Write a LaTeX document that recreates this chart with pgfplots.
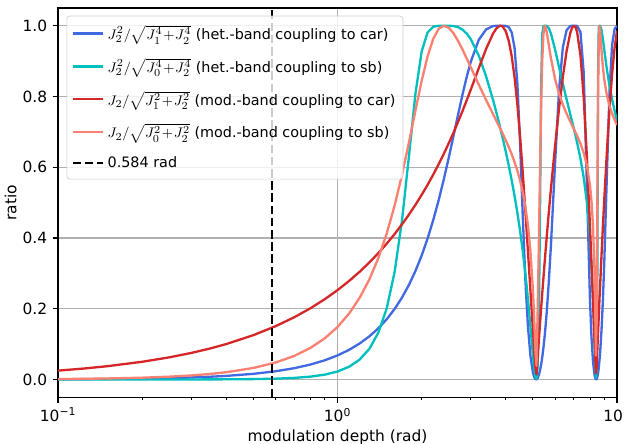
\documentclass[border=0pt]{standalone}
\usepackage{fontspec}
\setmainfont{DejaVu Sans}
\usepackage{pgfplots}
\usepackage{pgfplotstable}
\pgfplotsset{compat=1.18}

\definecolor{cblue}{HTML}{4169E1}
\definecolor{ccyan}{HTML}{00BFBF}
\definecolor{cred}{HTML}{D62728}
\definecolor{csalmon}{HTML}{FA8072}
\definecolor{cgrid}{HTML}{B0B0B0}

% tighter spacing round + in the legend formulas
\newcommand{\lm}[1]{{\medmuskip=1mu $#1$}}

% x: modulation depth; A: het->car, B: het->sb, C: mod->car, D: mod->sb
\pgfplotstableread{
x A B C D
0.1 0.000627 0.0000016 0.02503 0.001253
0.125 0.000978 0.0000038 0.03127 0.001958
0.15 0.001408 0.000008 0.03750 0.002823
0.2 0.002507 0.000025 0.05001 0.005033
0.25 0.003927 0.000062 0.06254 0.007894
0.3 0.005668 0.000130 0.07507 0.01142
0.35 0.007734 0.000244 0.08760 0.015629
0.4 0.010134 0.000422 0.10017 0.020544
0.5 0.015954 0.001063 0.12532 0.032593
0.6 0.02319 0.002292 0.15057 0.047824
0.7 0.03191 0.00445 0.17590 0.06656
0.8 0.04222 0.008026 0.20135 0.08923
0.9 0.05421 0.01372 0.22693 0.11634
1.0 0.06802 0.02254 0.25264 0.14849
1.1 0.08380 0.03599 0.27852 0.18644
1.2 0.10174 0.05629 0.30460 0.23101
1.3 0.12200 0.08678 0.33085 0.28308
1.4 0.14484 0.13262 0.35734 0.34353
1.5 0.17050 0.20141 0.38407 0.41298
1.6 0.19925 0.30342 0.41106 0.49145
1.7 0.23135 0.44807 0.43831 0.57781
1.8 0.26709 0.62978 0.46584 0.66914
1.9 0.30675 0.80783 0.49370 0.76037
2.0 0.35053 0.92762 0.52187 0.84435
2.1 0.39855 0.98100 0.55038 0.91372
2.2 0.45074 0.99697 0.57924 0.96313
2.3 0.50675 0.99984 0.60844 0.99112
2.4 0.56593 1.0 0.63799 0.99998
2.5 0.62716 0.99993 0.66787 0.99417
2.6 0.68886 0.99901 0.69804 0.97848
2.7 0.74905 0.99580 0.72846 0.95694
2.8 0.80552 0.98893 0.75905 0.93249
2.9 0.85613 0.97757 0.78969 0.90704
3.0 0.89922 0.96140 0.82018 0.88175
3.2 0.95988 0.91583 0.87973 0.83377
3.4 0.98957 0.85693 0.93430 0.79021
3.6 0.99894 0.79014 0.97773 0.75043
3.7 0.99988 0.75491 0.99219 0.73152
3.8 1.0 0.71876 0.99951 0.71296
3.83 1.0 0.70711 1.0 0.70711
3.9 0.99999 0.68167 0.99754 0.69449
4.0 0.99946 0.64348 0.98396 0.67580
4.1 0.99569 0.60385 0.95643 0.65653
4.2 0.98070 0.56236 0.91312 0.63623
4.3 0.93663 0.51834 0.85309 0.61431
4.4 0.83559 0.47099 0.77675 0.58998
4.5 0.66438 0.41933 0.68600 0.56211
4.6 0.45978 0.36219 0.58406 0.52899
4.7 0.27948 0.29831 0.47482 0.48797
4.8 0.14945 0.22690 0.36236 0.43469
4.9 0.06651 0.14846 0.24999 0.36129
5.0 0.020206 0.06860 0.14075 0.25364
5.05 0.00776 0.0330 0.08774 0.17883
5.1 0.00129 0.00706 0.03596 0.08374
5.15 0.0002 0.00147 0.01436 0.0383
5.2 0.004005 0.03875 0.06316 0.19322
5.25 0.01234 0.16712 0.11042 0.38071
5.3 0.02504 0.46254 0.15631 0.58553
5.35 0.04190 0.82640 0.20062 0.77120
5.4 0.06289 0.97541 0.24347 0.90315
5.45 0.08791 0.99847 0.28477 0.97342
5.5 0.11725 1.0 0.32496 0.9983
5.52 0.13016 1.0 0.34064 1.0
5.55 0.15047 1.0 0.36346 0.99710
5.6 0.18825 0.99942 0.40105 0.98345
5.7 0.27587 0.99298 0.47223 0.94531
5.8 0.37866 0.97817 0.53884 0.90817
6.0 0.61039 0.93331 0.65971 0.84981
6.2 0.81630 0.88324 0.76525 0.80822
6.4 0.93896 0.83557 0.85548 0.77674
6.6 0.98736 0.79160 0.92825 0.75124
6.8 0.99905 0.75036 0.97887 0.72914
6.9 0.99992 0.73030 0.99365 0.71881
7.0 1.0 0.71025 0.99988 0.70868
7.1 1.0 0.69020 0.99641 0.69870
7.2 0.99929 0.66910 0.98169 0.68832
7.4 0.98172 0.62403 0.91520 0.66634
7.6 0.86637 0.57052 0.79646 0.64024
7.8 0.55176 0.50048 0.63100 0.60524
8.0 0.22589 0.39759 0.43386 0.54983
8.1 0.12081 0.32433 0.32939 0.50530
8.2 0.05274 0.22907 0.22397 0.43646
8.3 0.01448 0.11027 0.11948 0.31602
8.35 0.00462 0.04882 0.06784 0.21588
8.4 0.0003 0.0046 0.01732 0.06767
8.45 0.00108 0.02574 0.03281 0.15843
8.5 0.00674 0.27599 0.08181 0.47232
8.55 0.01709 0.84866 0.12962 0.78489
8.6 0.03201 0.99600 0.17616 0.95794
8.65 0.05338 1.0 0.22527 1.0
8.7 0.07609 0.9996 0.26627 0.98622
8.8 0.13987 0.98802 0.35182 0.92998
8.9 0.22423 0.96233 0.43249 0.88302
9.0 0.32918 0.93198 0.50843 0.84851
9.2 0.58235 0.87537 0.64604 0.80263
9.4 0.81504 0.82948 0.76452 0.77305
9.6 0.94576 0.79207 0.86275 0.75151
9.8 0.99080 0.76013 0.93801 0.73425
10.0 0.99958 0.73121 0.98574 0.71928
}\ratios

\begin{document}
\begin{tikzpicture}
\begin{axis}[
  name=ax,
  scale only axis, width=362pt, height=252pt,
  xmode=log, xmin=0.1, xmax=10,
  ymin=-0.05, ymax=1.05,
  xtick={0.1,1,10},
  xticklabels={10\textsuperscript{−1},10\textsuperscript{0},10\textsuperscript{1}},
  ytick={0,0.2,0.4,0.6,0.8,1},
  yticklabel style={/pgf/number format/.cd,fixed,fixed zerofill,precision=1,assume math mode=true},
  grid=major,
  major grid style={cgrid, line width=0.8pt},
  axis line style={line width=0.8pt},
  tick align=outside, tick pos=left,
  major tick length=3.5pt, minor tick length=2pt,
  every tick/.style={black, line width=0.8pt},
  every minor tick/.style={black, line width=0.6pt},
  xlabel={modulation depth (rad)}, ylabel={ratio},
  xlabel style={yshift=2pt},
  ylabel shift=-3pt,
  tick label style={font=\fontsize{10}{12}\selectfont},
  label style={font=\fontsize{10}{12}\selectfont},
  legend cell align=left,
  legend style={at={(0,1)}, anchor=north west, xshift=5.5pt, yshift=-5pt,
    draw=black!20, rounded corners=2pt, fill=white, fill opacity=0.8, text opacity=1,
    font=\fontsize{9.3}{11}\selectfont, row sep=6.6pt, inner ysep=4pt,
    /tikz/every odd column/.style={xshift=-1pt}},
  legend image code/.code={\draw[#1] (0cm,0cm) -- (0.7cm,0cm);},
]
\addplot[cblue, line width=1.5pt, line join=round] table[x=x, y=A]{\ratios};
\addlegendentry{\lm{J_2^2/\sqrt{J_1^4+J_2^4}} (het.-band coupling to car)}
\addplot[ccyan, line width=1.5pt, line join=round] table[x=x, y=B]{\ratios};
\addlegendentry{\lm{J_2^2/\sqrt{J_0^4+J_2^4}} (het.-band coupling to sb)}
\addplot[cred, line width=1.5pt, line join=round] table[x=x, y=C]{\ratios};
\addlegendentry{\lm{J_2/\sqrt{J_1^2+J_2^2}} (mod.-band coupling to car)}
\addplot[csalmon, line width=1.5pt, line join=round] table[x=x, y=D]{\ratios};
\addlegendentry{\lm{J_2/\sqrt{J_0^2+J_2^2}} (mod.-band coupling to sb)}
\addplot[black, line width=1.5pt, dash pattern=on 5.5pt off 2.4pt] coordinates {(0.584,-0.05) (0.584,1.05)};
\addlegendentry{0.584 rad}
\end{axis}
\pgfresetboundingbox
\path ([xshift=-37.6pt,yshift=-29.8pt]ax.south west) rectangle ([xshift=4.5pt,yshift=5.2pt]ax.north east);
\end{tikzpicture}
\end{document}
